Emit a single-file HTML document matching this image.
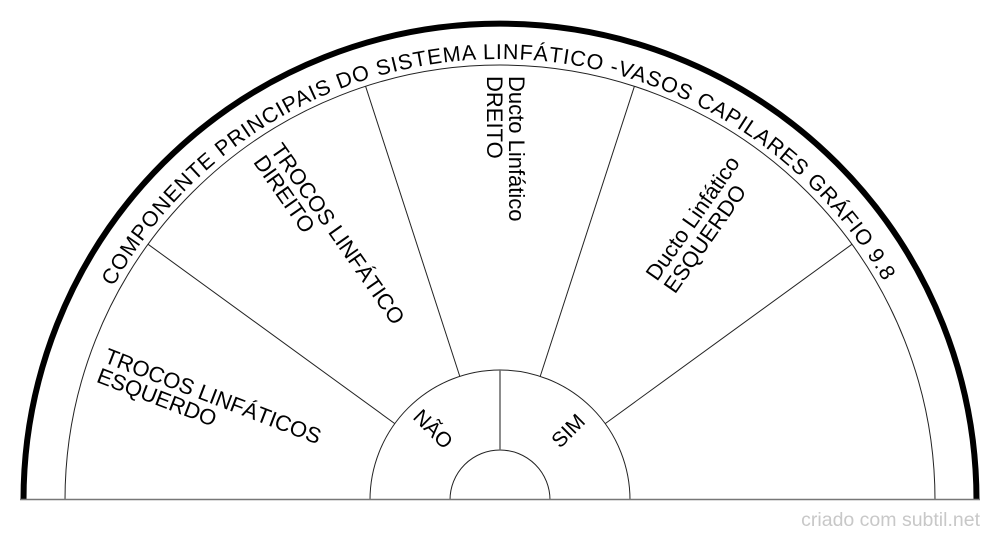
<!DOCTYPE html>
<html><head><meta charset="utf-8"><style>
html,body{margin:0;padding:0;background:#fff;}
svg{display:block;font-family:"Liberation Sans",sans-serif;}
</style></head><body>
<svg width="1000" height="540" viewBox="0 0 1000 540" xmlns="http://www.w3.org/2000/svg">
<defs>
<path id="tp" d="M 113.4 286.7 A 442 442 0 0 1 886.6 286.7"/>
</defs>
<path d="M 23.5 500 A 476.5 476.5 0 0 1 976.5 500" fill="none" stroke="#000" stroke-width="6"/>
<path d="M 65 500 A 435 435 0 0 1 935 500" fill="none" stroke="#222" stroke-width="1"/>
<path d="M 370 500 A 130 130 0 0 1 630 500" fill="none" stroke="#222" stroke-width="1"/>
<path d="M 450 500 A 50 50 0 0 1 550 500" fill="none" stroke="#222" stroke-width="1"/>
<line x1="20" y1="499.5" x2="980" y2="499.5" stroke="#777" stroke-width="1.5"/>
<line x1="500" y1="370" x2="500" y2="450" stroke="#666" stroke-width="1.5"/>
<line x1="394.8" y1="423.6" x2="148.1" y2="244.3" stroke="#222"/>
<line x1="459.8" y1="376.4" x2="365.6" y2="86.3" stroke="#222"/>
<line x1="540.2" y1="376.4" x2="634.4" y2="86.3" stroke="#222"/>
<line x1="605.2" y1="423.6" x2="851.9" y2="244.3" stroke="#222"/>
<text font-size="21.5" fill="#000"><textPath href="#tp" textLength="935" lengthAdjust="spacing">COMPONENTE PRINCIPAIS DO SISTEMA LINFÁTICO -VASOS CAPILARES  GRÁFIO 9.8</textPath></text>
<g font-size="22" fill="#000">
<text transform="translate(103,362) rotate(21)">TROCOS LINFÁTICOS<tspan x="0" dy="21">ESQUERDO</tspan></text>
<text transform="translate(270,150) rotate(55)">TROCOS LINFÁTICO<tspan x="0" dy="21">DIREITO</tspan></text>
<text transform="translate(509,76) rotate(90)">Ducto Linfático<tspan x="0" dy="22">DREITO</tspan></text>
<text transform="translate(657,282) rotate(-55)">Ducto Linfático<tspan x="0" dy="22">ESQUERDO</tspan></text>
<text transform="translate(412,418) rotate(45)" font-size="21">NÃO</text>
<text transform="translate(560,449) rotate(-45)" font-size="21">SIM</text>
</g>
<text x="980" y="526" text-anchor="end" font-size="19.5" fill="#c8c8c8">criado com subtil.net</text>
</svg>
</body></html>
